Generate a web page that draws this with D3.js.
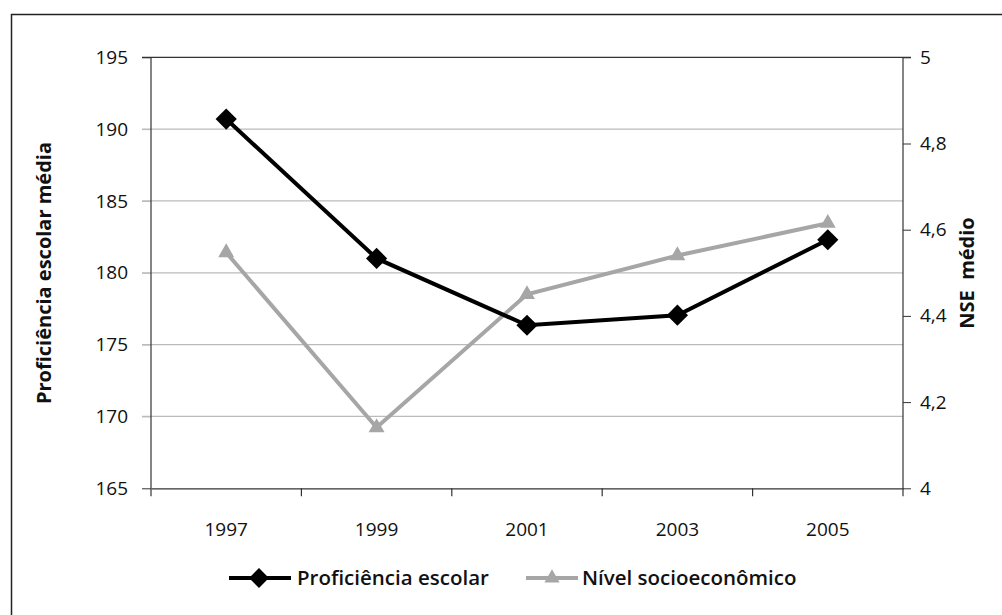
<!DOCTYPE html>
<html>
<head>
<meta charset="utf-8">
<script src="https://cdn.jsdelivr.net/npm/d3@7"></script>
<style>
  body { margin: 0; background: #fff; }
  svg { font-family: "Open Sans", sans-serif; }
  .tick text { font-family: "Open Sans", sans-serif; font-size: 19px; fill: #111; }
  .axis-title { font-size: 20px; font-weight: 700; fill: #111; }
  .legend text { font-size: 20.5px; font-weight: 600; fill: #111; }
</style>
</head>
<body>
<svg id="chart"></svg>
<script>
const years = ['1997', '1999', '2001', '2003', '2005'];
const proficiencia = [190.7, 181.0, 176.35, 177.05, 182.3];
const nse = [4.547, 4.141, 4.45, 4.54, 4.615];
const leftTicks = [165, 170, 175, 180, 185, 190, 195];
const rightTicks = [4, 4.2, 4.4, 4.6, 4.8, 5];

const config = {
  width: 1002,
  height: 615,
  margin: {top: 57.3, right: 99, bottom: 126.7, left: 151}
};

const innerW = config.width - config.margin.left - config.margin.right;
const innerH = config.height - config.margin.top - config.margin.bottom;

const svg = d3.select('#chart')
  .attr('width', config.width)
  .attr('height', config.height);

// outer frame, runs off the right and bottom edges
svg.append('rect')
  .attr('x', 11.5).attr('y', 14.5)
  .attr('width', 1000).attr('height', 700)
  .attr('fill', 'none')
  .attr('stroke', '#222')
  .attr('stroke-width', 1.5);

const chart = svg.append('g')
  .attr('transform', `translate(${config.margin.left},${config.margin.top})`);

const xScale = d3.scaleBand().domain(years).range([0, innerW]);
const yLeft = d3.scaleLinear().domain([165, 195]).range([innerH, 0]);
const yRight = d3.scaleLinear().domain([4, 5]).range([innerH, 0]);

// gridlines
chart.append('g')
  .selectAll('line')
  .data(leftTicks.slice(1, -1))
  .join('line')
  .attr('x1', -9).attr('x2', innerW)
  .attr('y1', d => yLeft(d)).attr('y2', d => yLeft(d))
  .attr('stroke', '#bbb')
  .attr('stroke-width', 1.3);

// top line
chart.append('line')
  .attr('x1', -9).attr('x2', innerW + 8)
  .attr('y1', 0).attr('y2', 0)
  .attr('stroke', '#333').attr('stroke-width', 1.2);

// left axis
const leftAxis = chart.append('g')
  .call(d3.axisLeft(yLeft).tickValues(leftTicks).tickSize(9).tickPadding(14))
  .attr('font-family', null).attr('font-size', null);
leftAxis.select('.domain').remove();
leftAxis.selectAll('.tick line').attr('stroke', d => (d === 165 || d === 195) ? '#333' : '#bbb');
chart.append('line')
  .attr('x1', 0).attr('x2', 0).attr('y1', 0).attr('y2', innerH + 8)
  .attr('stroke', '#333').attr('stroke-width', 1.2);

// right axis
const rightAxis = chart.append('g')
  .attr('transform', `translate(${innerW},0)`)
  .call(d3.axisRight(yRight).tickValues(rightTicks).tickSize(8).tickPadding(9)
    .tickFormat(d => d3.format('.1~f')(d).replace('.', ',')))
  .attr('font-family', null).attr('font-size', null);
rightAxis.select('.domain').remove();
rightAxis.selectAll('.tick line').attr('stroke', '#333');
chart.append('line')
  .attr('x1', innerW).attr('x2', innerW).attr('y1', 0).attr('y2', innerH + 8)
  .attr('stroke', '#333').attr('stroke-width', 1.2);

// x axis
const xAxisG = chart.append('g')
  .attr('transform', `translate(0,${innerH})`)
  .call(d3.axisBottom(xScale).tickSize(0).tickPadding(34))
  .attr('font-family', null).attr('font-size', null);
xAxisG.select('.domain').attr('stroke', '#333').attr('stroke-width', 1.2);
xAxisG.selectAll('.tick line').remove();
chart.append('g')
  .selectAll('line')
  .data(years.slice(1))
  .join('line')
  .attr('x1', d => xScale(d)).attr('x2', d => xScale(d))
  .attr('y1', innerH).attr('y2', innerH + 8)
  .attr('stroke', '#333').attr('stroke-width', 1.2);

const cx = d => xScale(d) + xScale.bandwidth() / 2;

// NSE line (gray, triangles)
const nseData = years.map((y, i) => ({year: y, v: nse[i]}));
chart.append('path')
  .datum(nseData)
  .attr('fill', 'none')
  .attr('stroke', '#a6a6a6')
  .attr('stroke-width', 4)
  .attr('d', d3.line().x(d => cx(d.year)).y(d => yRight(d.v)));
chart.selectAll('.tri')
  .data(nseData)
  .join('path')
  .attr('class', 'tri')
  .attr('transform', d => `translate(${cx(d.year)},${yRight(d.v)})`)
  .attr('d', d3.symbol(d3.symbolTriangle, 110))
  .attr('fill', '#a6a6a6');

// Proficiência line (black, diamonds)
const profData = years.map((y, i) => ({year: y, v: proficiencia[i]}));
chart.append('path')
  .datum(profData)
  .attr('fill', 'none')
  .attr('stroke', '#000')
  .attr('stroke-width', 4)
  .attr('d', d3.line().x(d => cx(d.year)).y(d => yLeft(d.v)));
chart.selectAll('.dia')
  .data(profData)
  .join('rect')
  .attr('class', 'dia')
  .attr('x', -7.5).attr('y', -7.5)
  .attr('width', 15).attr('height', 15)
  .attr('transform', d => `translate(${cx(d.year)},${yLeft(d.v)}) rotate(45)`)
  .attr('fill', '#000');

// axis titles
svg.append('text')
  .attr('class', 'axis-title')
  .attr('text-anchor', 'middle')
  .attr('transform', 'translate(51,273) rotate(-90)')
  .text('Proficiência escolar média');
svg.append('text')
  .attr('class', 'axis-title')
  .attr('text-anchor', 'middle')
  .attr('transform', 'translate(974,273) rotate(-90)')
  .style('white-space', 'pre')
  .text('NSE  médio');

// legend
const legend = svg.append('g').attr('class', 'legend').attr('transform', 'translate(0,578)');
legend.append('line').attr('x1', 229).attr('x2', 291).attr('y1', 0).attr('y2', 0)
  .attr('stroke', '#000').attr('stroke-width', 4);
legend.append('rect').attr('x', -7).attr('y', -7).attr('width', 14).attr('height', 14)
  .attr('transform', 'translate(259,0) rotate(45)').attr('fill', '#000');
legend.append('text').attr('x', 297).attr('y', 0).attr('dy', '0.35em').text('Proficiência escolar');
legend.append('line').attr('x1', 526).attr('x2', 578).attr('y1', 0).attr('y2', 0)
  .attr('stroke', '#a6a6a6').attr('stroke-width', 4);
legend.append('path').attr('transform', 'translate(552,0)')
  .attr('d', d3.symbol(d3.symbolTriangle, 100)).attr('fill', '#a6a6a6');
legend.append('text').attr('x', 582).attr('y', 0).attr('dy', '0.35em').text('Nível socioeconômico');
</script>
</body>
</html>
